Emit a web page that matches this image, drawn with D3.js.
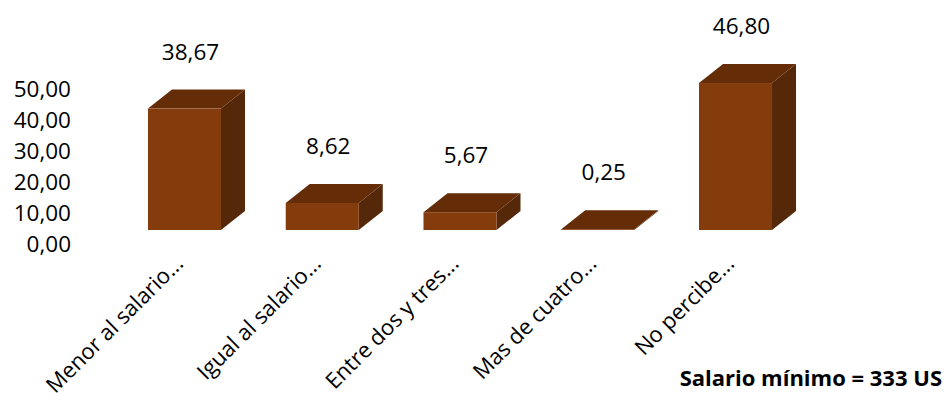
<!DOCTYPE html>
<html>
<head>
<meta charset="utf-8">
<script src="https://cdn.jsdelivr.net/npm/d3@7"></script>
<style>
  html, body { margin: 0; padding: 0; background: #fff; }
  svg { display: block; font-family: "Open Sans", "Noto Sans", sans-serif; }
</style>
</head>
<body>
<div id="chart"></div>
<script>
// data
var categories = ['Menor al salario...', 'Igual al salario...', 'Entre dos y tres...', 'Mas de cuatro...', 'No percibe...'];
var values = [38.67, 8.62, 5.67, 0.25, 46.80];
var tickValues = [0, 10, 20, 30, 40, 50];
var note = 'Salario mínimo = 333 US';

var width = 947,
    height = 402,
    depth = { dx: 24, dy: -19 }, // 3d offset of the back face
    colors = { front: '#843c0c', top: '#642d08', side: '#55280a' },
    fontSize = 22.5;

var fmt = function (v) { return d3.format('.2f')(v).replace('.', ','); };

var svg = d3.select('#chart').append('svg')
    .attr('width', width)
    .attr('height', height);

var x = d3.scaleBand()
    .domain(categories)
    .range([115.6, 804.4])
    .paddingInner(0.47)
    .paddingOuter(0.235);

// bars sit on the floor at y=230, the axis labels run a bit lower (back wall)
var y = d3.scaleLinear().domain([0, 50]).range([230, 73]);
var yLabels = d3.scaleLinear().domain([0, 50]).range([244, 89]);

// value axis, text only
var axis = svg.append('g')
    .attr('transform', 'translate(73,0)')
    .call(d3.axisLeft(yLabels).tickValues(tickValues).tickFormat(fmt).tickSize(0).tickPadding(2));
axis.select('.domain').remove();
axis.selectAll('text')
    .attr('font-family', '"Open Sans", "Noto Sans", sans-serif')
    .attr('font-size', fontSize)
    .attr('fill', '#000');

var rows = categories.map(function (c, i) { return { cat: c, value: values[i] }; });

var bars = svg.append('g').selectAll('g')
    .data(rows)
    .enter().append('g');

// side face
bars.append('path')
    .attr('fill', colors.side)
    .attr('d', function (d) {
        var x1 = x(d.cat) + x.bandwidth(), y0 = y(0), y1 = y(d.value);
        return 'M' + x1 + ',' + y1 + 'L' + (x1 + depth.dx) + ',' + (y1 + depth.dy) +
            'L' + (x1 + depth.dx) + ',' + (y0 + depth.dy) + 'L' + x1 + ',' + y0 + 'Z';
    });

// top face
bars.append('path')
    .attr('fill', colors.top)
    .attr('d', function (d) {
        var x0 = x(d.cat), x1 = x0 + x.bandwidth(), y1 = y(d.value);
        return 'M' + x0 + ',' + y1 + 'L' + (x0 + depth.dx) + ',' + (y1 + depth.dy) +
            'L' + (x1 + depth.dx) + ',' + (y1 + depth.dy) + 'L' + x1 + ',' + y1 + 'Z';
    });

// front face
bars.append('rect')
    .attr('fill', colors.front)
    .attr('x', function (d) { return x(d.cat); })
    .attr('y', function (d) { return y(d.value); })
    .attr('width', x.bandwidth())
    .attr('height', function (d) { return y(0) - y(d.value); });

// value labels
bars.append('text')
    .attr('x', function (d) { return x(d.cat) + x.bandwidth() / 2 + 6; })
    .attr('y', function (d) { return y(d.value) + depth.dy - 30; })
    .attr('text-anchor', 'middle')
    .attr('font-size', fontSize)
    .attr('fill', '#000')
    .text(function (d) { return fmt(d.value); });

// category labels, rotated
svg.append('g').selectAll('text')
    .data(categories)
    .enter().append('text')
    .attr('transform', function (c) {
        return 'translate(' + (x(c) + x.bandwidth() / 2) + ',265) rotate(-45)';
    })
    .attr('text-anchor', 'end')
    .attr('font-size', 22)
    .attr('fill', '#000')
    .text(function (c) { return c; });

svg.append('text')
    .attr('x', 942)
    .attr('y', 386)
    .attr('text-anchor', 'end')
    .attr('font-size', 22)
    .attr('font-weight', 'bold')
    .attr('fill', '#000')
    .text(note);
</script>
</body>
</html>
